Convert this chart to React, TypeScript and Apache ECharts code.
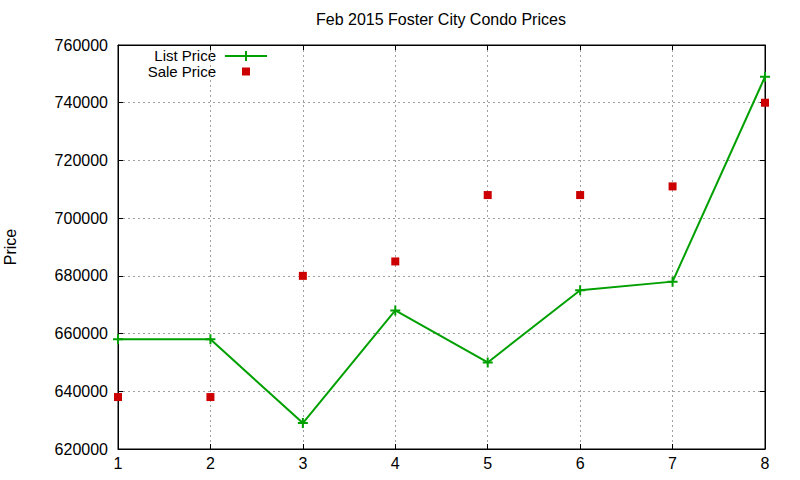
import React, { useEffect, useRef } from "react";
import * as echarts from "echarts";

const xValues = [1, 2, 3, 4, 5, 6, 7, 8];
const listPrice = [658000, 658000, 629000, 668000, 650000, 675000, 678000, 749000];
const salePrice = [638000, 638000, 680000, 685000, 708000, 708000, 711000, 740000];
const titleText = "Feb 2015 Foster City Condo Prices";
const seriesNames = ["List Price", "Sale Price"];
const yAxisName = "Price";

const FONT = "'Liberation Sans', Arial, sans-serif";
const GREEN = "#00a000";
const RED = "#cc0000";
const PLUS = "path://M4,0H6V4H10V6H6V10H4V6H0V4H4Z";

export default function App() {
  const ref = useRef<HTMLDivElement>(null);
  useEffect(() => {
    if (!ref.current) return;
    const chart = echarts.init(ref.current, undefined, { renderer: "svg" });
    const tickStyle = { show: true, inside: true, length: 5, lineStyle: { color: "#000", width: 1 } };
    const split = { show: true, lineStyle: { color: "#a0a0a0", type: [2, 3] as any, width: 1 } };
    chart.setOption({
      animation: false,
      backgroundColor: "#fff",
      textStyle: { fontFamily: FONT },
      title: {
        text: titleText,
        left: 316,
        top: 11,
        padding: 0,
        textStyle: { fontFamily: FONT, fontSize: 16, fontWeight: "normal", color: "#000" },
      },
      grid: {
        left: 118,
        right: 35,
        top: 45,
        bottom: 31,
        containLabel: false,
        outerBoundsMode: "none",
        show: true,
        borderColor: "#000",
        borderWidth: 1,
        backgroundColor: "transparent",
      },
      xAxis: [
        {
          type: "value",
          min: 1,
          max: 8,
          interval: 1,
          axisLine: { show: true, lineStyle: { color: "#000", width: 1 } },
          axisTick: tickStyle,
          axisLabel: { margin: 6, fontSize: 16, color: "#000", fontFamily: FONT },
          splitLine: split,
        },
        {
          type: "value",
          position: "top",
          min: 1,
          max: 8,
          interval: 1,
          axisLine: { show: true, lineStyle: { color: "#000", width: 1 } },
          axisTick: tickStyle,
          axisLabel: { show: false },
          splitLine: { show: false },
        },
      ],
      yAxis: [
        {
          type: "value",
          min: 620000,
          max: 760000,
          interval: 20000,
          name: yAxisName,
          nameLocation: "middle",
          nameGap: 100,
          nameTextStyle: { fontSize: 16, color: "#000", fontFamily: FONT },
          axisLine: { show: true, lineStyle: { color: "#000", width: 1 } },
          axisTick: tickStyle,
          axisLabel: {
            margin: 10,
            fontSize: 16,
            color: "#000",
            fontFamily: FONT,
            formatter: (v: number) => String(v),
          },
          splitLine: split,
        },
        {
          type: "value",
          position: "right",
          min: 620000,
          max: 760000,
          interval: 20000,
          axisLine: { show: true, lineStyle: { color: "#000", width: 1 } },
          axisTick: tickStyle,
          axisLabel: { show: false },
          splitLine: { show: false },
        },
      ],
      series: [
        {
          name: seriesNames[0],
          type: "line",
          data: xValues.map((x, i) => [x, listPrice[i]]),
          lineStyle: { color: GREEN, width: 2 },
          itemStyle: { color: GREEN, opacity: 1 },
          symbol: PLUS,
          symbolSize: 10,
          showSymbol: true,
          z: 3,
        },
        {
          name: seriesNames[1],
          type: "scatter",
          data: xValues.map((x, i) => [x, salePrice[i]]),
          symbol: "rect",
          symbolSize: 8,
          itemStyle: { color: RED, opacity: 1 },
          z: 4,
        },
      ],
      graphic: [
        {
          type: "text",
          x: 216,
          y: 55.5,
          style: { text: seriesNames[0], textAlign: "right", textVerticalAlign: "middle", fontSize: 15, lineHeight: 14, fontFamily: FONT, fill: "#000" },
        },
        {
          type: "text",
          x: 216,
          y: 71,
          style: { text: seriesNames[1], textAlign: "right", textVerticalAlign: "middle", fontSize: 15, lineHeight: 14, fontFamily: FONT, fill: "#000" },
        },
        { type: "line", shape: { x1: 225, y1: 56, x2: 267, y2: 56 }, style: { stroke: GREEN, lineWidth: 2 } },
        { type: "line", shape: { x1: 246, y1: 51, x2: 246, y2: 61 }, style: { stroke: GREEN, lineWidth: 2 } },
        { type: "rect", shape: { x: 242, y: 67.5, width: 8, height: 8 }, style: { fill: RED } },
      ],
    });
    return () => chart.dispose();
  }, []);
  return (
    <div
      ref={ref}
      style={{ position: "fixed", left: 0, top: 0, width: 800, height: 480, background: "#fff" }}
    />
  );
}
